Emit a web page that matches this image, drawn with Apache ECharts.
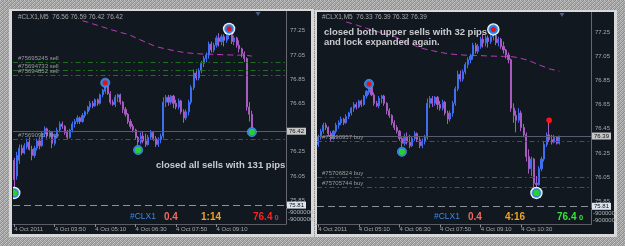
<!DOCTYPE html>
<html>
<head>
<meta charset="utf-8">
<script src="https://cdn.jsdelivr.net/npm/echarts@6/dist/echarts.min.js"></script>
<style>
html,body{margin:0;padding:0;background:#a9a9a9;}
#c{width:625px;height:246px;}
</style>
</head>
<body>
<div id="c"></div>
<script>
// ---- DATA (CLX1, M5, 4 Oct 2011) ----
// global bar index 0 = 02:30; each bar = [open, close, low, high]
const bars = [
[76.18,76.02,75.95,76.20],[76.05,76.22,76.02,76.25],[76.18,76.28,76.15,76.31],[76.28,76.24,76.22,76.31],
[76.24,76.30,76.23,76.32],[76.29,76.33,76.27,76.36],[76.33,76.27,76.26,76.37],[76.27,76.22,76.18,76.30],
[76.22,76.28,76.20,76.30],[76.28,76.34,76.26,76.36],[76.34,76.30,76.27,76.37],[76.30,76.40,76.29,76.42],
[76.40,76.44,76.37,76.46],[76.44,76.38,76.36,76.45],[76.38,76.41,76.36,76.43],[76.41,76.32,76.28,76.42],
[76.32,76.38,76.30,76.40],[76.38,76.43,76.36,76.45],[76.43,76.48,76.41,76.50],[76.48,76.46,76.44,76.50],
[76.46,76.41,76.39,76.47],[76.41,76.37,76.35,76.43],[76.37,76.43,76.36,76.44],[76.43,76.48,76.41,76.50],
[76.48,76.50,76.45,76.52],[76.50,76.53,76.48,76.55],[76.53,76.50,76.48,76.54],[76.50,76.55,76.49,76.57],
[76.55,76.58,76.53,76.59],[76.58,76.62,76.56,76.63],[76.62,76.65,76.59,76.67],[76.65,76.63,76.61,76.67],
[76.63,76.68,76.62,76.69],[76.68,76.65,76.63,76.69],[76.65,76.72,76.64,76.73],[76.72,76.76,76.70,76.77],
[76.75,76.79,76.73,76.81],[76.79,76.73,76.72,76.80],[76.73,76.66,76.64,76.75],[76.66,76.64,76.63,76.68],
[76.64,76.70,76.62,76.72],[76.70,76.72,76.66,76.73],[76.72,76.66,76.64,76.73],[76.66,76.60,76.57,76.67],
[76.60,76.56,76.54,76.62],[76.56,76.50,76.48,76.57],[76.50,76.46,76.44,76.52],[76.46,76.43,76.41,76.48],
[76.43,76.37,76.35,76.44],[76.37,76.33,76.30,76.38],[76.33,76.38,76.31,76.41],[76.38,76.34,76.32,76.42],
[76.34,76.31,76.29,76.40],[76.31,76.37,76.30,76.39],[76.37,76.41,76.35,76.43],[76.41,76.36,76.34,76.42],
[76.36,76.31,76.29,76.38],[76.31,76.35,76.29,76.37],[76.35,76.38,76.32,76.40],[76.38,76.66,76.36,76.70],
[76.66,76.70,76.62,76.72],[76.70,76.66,76.63,76.72],[76.66,76.71,76.64,76.72],[76.71,76.65,76.61,76.72],
[76.65,76.62,76.60,76.68],[76.62,76.67,76.60,76.69],[76.67,76.58,76.56,76.68],[76.58,76.53,76.49,76.60],
[76.53,76.58,76.51,76.60],[76.58,76.66,76.55,76.68],[76.66,76.78,76.64,76.80],[76.78,76.90,76.76,76.93],
[76.90,76.86,76.84,76.93],[76.86,76.92,76.84,76.94],[76.92,76.98,76.90,77.00],[76.98,77.02,76.95,77.04],
[77.02,77.05,76.99,77.07],[77.05,77.14,77.02,77.16],[77.14,77.09,77.07,77.16],[77.09,77.13,77.07,77.15],
[77.13,77.19,77.11,77.21],[77.19,77.16,77.12,77.23],[77.16,77.20,77.13,77.22],[77.20,77.17,77.12,77.22],
[77.17,77.21,77.15,77.23],[77.21,77.22,77.18,77.24],[77.22,77.16,77.14,77.23],[77.16,77.19,77.13,77.21],
[77.19,77.13,77.11,77.20],[77.13,77.10,77.07,77.17],[77.10,77.06,77.03,77.11],[77.06,77.02,76.99,77.08],
[77.02,76.62,76.59,77.03],[76.62,76.56,76.50,76.66],[76.56,76.52,76.42,76.60],[76.52,76.58,76.50,76.62],
[76.58,76.46,76.43,76.60],[76.46,76.40,76.38,76.49],[76.40,76.22,76.18,76.42],[76.22,76.12,76.08,76.28],
[76.12,76.20,76.06,76.22],[76.20,76.00,75.96,76.21],[76.00,75.99,75.95,76.06],[75.99,76.12,75.98,76.14],
[76.12,76.20,76.10,76.22],[76.20,76.32,76.18,76.35],[76.32,76.40,76.30,76.42],[76.40,76.36,76.34,76.52],
[76.36,76.34,76.32,76.40],[76.34,76.38,76.33,76.40],[76.38,76.33,76.32,76.39],[76.33,76.39,76.32,76.39]
];
// last (still forming) bar as seen in the left screenshot
const leftLiveBar = [76.56, 76.42, 76.42, 76.59];
const leftBarCount = 95;      // bars 0..94 in left shot
const rightFirstBar = 16;     // right shot starts 80 minutes later
// moving average (dashed magenta), starting at bar 27
const maFirstBar = 27;
const maValues = [
77.332,77.326,77.320,77.313,77.307,77.300,77.294,77.287,77.280,77.274,77.267,77.260,77.254,77.248,77.242,
77.236,77.230,77.225,77.219,77.211,77.202,77.192,77.182,77.173,77.164,77.155,77.146,77.137,77.128,77.120,
77.114,77.109,77.104,77.099,77.095,77.090,77.086,77.082,77.078,77.074,77.071,77.068,77.066,77.064,77.062,
77.061,77.059,77.058,77.057,77.056,77.056,77.055,77.055,77.054,77.053,77.052,77.051,77.050,77.050,77.049,
77.049,77.048,77.048,77.048,77.047,77.046,77.043,77.040,77.035,77.030,77.025,77.020,77.012,77.004,76.995,
76.987,76.978,76.970,76.962,76.953,76.945,76.940,76.935,76.930,76.925
];
// order lines
const leftOrders = [['#75695245 sell', 76.99], ['#75694733 sell', 76.917], ['#75694852 sell', 76.884], ['#75690957 buy', 76.351]];
const rightOrders = [['#75690957 buy', 76.351], ['#75706824 buy', 76.052], ['#75705744 buy', 75.969]];
const windowLowPrice = 75.81;
// swing markers: [global bar, price, kind]
const leftMarks = [[0, 75.91, 'lowRing'], [36, 76.82, 'high'], [49, 76.265, 'low'], [85, 77.265, 'highRing'], [94, 76.413, 'low']];
const rightMarks = [[36, 76.82, 'high'], [49, 76.26, 'low'], [85, 77.27, 'highRing'], [102, 75.92, 'lowRing'], [107, 76.52, 'dot']];
// tick labels
const priceTicksLeft = [75.85, 76.05, 76.25, 76.65, 76.85, 77.05, 77.25];
const priceTicksRight = [75.85, 76.05, 76.25, 76.45, 76.65, 76.85, 77.05, 77.25];
const timeLabelsLeft = ['4 Oct 2011', '4 Oct 03:50', '4 Oct 05:10', '4 Oct 06:30', '4 Oct 07:50', '4 Oct 09:10'];
const timeLabelsRight = ['4 Oct 2011', '4 Oct 05:10', '4 Oct 06:30', '4 Oct 07:50', '4 Oct 09:10', '4 Oct 10:30'];
const stripLeft = ['#CLX1', '0.4', '1:14', '76.4', '0'];
const stripRight = ['#CLX1', '0.4', '4:16', '76.4', '0'];
const noteLeft = ['closed all sells with 131 pips'];
const noteRight = ['closed both upper sells with 32 pips', 'and lock expanded again.'];

// ---- background texture ----
(function () {
  const pc = document.createElement('canvas'); pc.width = 4; pc.height = 4;
  const g = pc.getContext('2d');
  const sh = [[196,150,178,138],[160,188,132,182],[172,140,204,152],[146,192,158,170]];
  for (let y = 0; y < 4; y++) for (let x = 0; x < 4; x++) {
    const v = sh[y][x]; g.fillStyle = 'rgb(' + v + ',' + v + ',' + v + ')'; g.fillRect(x, y, 1, 1);
  }
  document.body.style.background = 'url(' + pc.toDataURL() + ')';
})();

const FONT = '"Liberation Sans", Arial, sans-serif';
const SLOTS = 108;
const cats = Array.from({length: SLOTS}, (_, k) => String(k));
const BULL = '#3d6ff0', BEAR = '#a95cc0';

const leftData = bars.slice(0, leftBarCount - 1).concat([leftLiveBar]);
const rightData = bars.slice(rightFirstBar);
function maFor(start, count) {
  const out = [];
  for (let k = 0; k < count; k++) {
    const gi = start + k - maFirstBar;
    out.push(gi >= 0 && gi < maValues.length ? maValues[gi] : null);
  }
  return out;
}

function orderLines(orders) {
  return orders.map(o => ({
    yAxis: o[1],
    lineStyle: {color: '#1f701f', width: 1, type: [5, 3, 1.5, 3]},
    label: {show: true, position: 'insideStartTop', formatter: o[0], distance: [5, 1],
            fontSize: 6, color: '#9a9a9a', fontFamily: FONT}
  }));
}
function boxLine(value, bg, lineStyle) {
  return {
    yAxis: value, lineStyle: lineStyle,
    label: {show: true, position: 'end', formatter: value.toFixed(2), distance: 1,
            backgroundColor: bg, color: '#111', padding: [1, 2, 0, 2], fontSize: 6, fontFamily: FONT}
  };
}

function markerRenderer(list, offset) {
  return function (params, api) {
    const m = list[params.dataIndex];
    const p = api.coord([m[0] - offset, m[1]]);
    const cx = p[0], cy = p[1];
    const kind = m[2];
    if (kind === 'dot') {
      return {type: 'circle', shape: {cx, cy, r: 2.8}, style: {fill: '#ff1414'}};
    }
    const isHigh = kind.indexOf('high') === 0;
    const ch = [];
    if (kind.indexOf('Ring') > 0) ch.push({type: 'circle', shape: {cx, cy, r: 6.2}, style: {fill: '#f4f4f4'}});
    ch.push({type: 'circle', shape: {cx, cy, r: 4.6}, style: {fill: '#2b7fe4', stroke: '#5aa2f0', lineWidth: 0.6}});
    ch.push({type: 'circle', shape: {cx, cy, r: isHigh ? 2.5 : 3.1}, style: {fill: isHigh ? '#e81212' : '#2bd02b'}});
    return {type: 'group', children: ch};
  };
}

const panels = [
  {grid: {left: 13, top: 11.3, width: 273, height: 195}, strip: {left: 13, top: 208, width: 273, height: 16},
   data: leftData, start: 0, count: leftBarCount, ticks: priceTicksLeft, times: timeLabelsLeft,
   bid: leftLiveBar[1], orders: leftOrders, marks: leftMarks},
  {grid: {left: 317, top: 12.5, width: 274, height: 195}, strip: {left: 317, top: 209, width: 274, height: 15.5},
   data: rightData, start: rightFirstBar, count: rightData.length, ticks: priceTicksRight, times: timeLabelsRight,
   bid: bars[bars.length - 1][1], orders: rightOrders, marks: rightMarks}
];

const grid = [], xAxis = [], yAxis = [], series = [];
panels.forEach((P, pi) => {
  const gm = pi * 2, gs = pi * 2 + 1;
  grid.push(Object.assign({containLabel: false}, P.grid));
  grid.push(Object.assign({containLabel: false}, P.strip));
  xAxis.push({type: 'category', gridIndex: gm, data: cats, boundaryGap: true,
              axisLine: {show: false}, axisTick: {show: false}, axisLabel: {show: false}, splitLine: {show: false}});
  const every16 = (i) => i % 16 === 0 && i / 16 < P.times.length;
  xAxis.push({type: 'category', gridIndex: gs, data: cats, boundaryGap: true,
              axisLine: {show: true, lineStyle: {color: '#5c5c66', width: 1}},
              axisTick: {show: true, alignWithLabel: true, interval: every16, length: 3, lineStyle: {color: '#8a8a92'}},
              axisLabel: {show: true, interval: every16, formatter: (v, i) => P.times[i / 16] || '',
                          align: 'left', fontSize: 6, color: '#a9a9a9', margin: 2, fontFamily: FONT},
              splitLine: {show: false}});
  yAxis.push({type: 'value', gridIndex: gm, position: 'right', min: 75.80, max: 77.41,
              axisLine: {show: true, lineStyle: {color: '#66666f'}}, axisTick: {show: false},
              splitLine: {show: false},
              axisLabel: {show: true, customValues: P.ticks, formatter: v => v.toFixed(2),
                          fontSize: 6, color: '#a9a9a9', margin: 4, fontFamily: FONT}});
  yAxis.push({type: 'value', gridIndex: gs, position: 'right', min: 0, max: 1,
              axisLine: {show: true, lineStyle: {color: '#66666f'}}, axisTick: {show: false},
              axisLabel: {show: false}, splitLine: {show: false}});
  const xi = pi * 2, yi = pi * 2;
  series.push({
    type: 'line', xAxisIndex: xi, yAxisIndex: yi, data: maFor(P.start, P.count), z: 1,
    showSymbol: false, symbol: 'none', silent: true,
    lineStyle: {color: '#c23cbd', width: 1, type: [6, 4]}
  });
  series.push({
    type: 'candlestick', xAxisIndex: xi, yAxisIndex: yi, data: P.data, barWidth: 1.6, silent: true,
    itemStyle: {color: BULL, color0: BEAR, borderColor: BULL, borderColor0: BEAR, borderWidth: 1},
    markLine: {
      silent: true, symbol: ['none', 'none'], animation: false,
      data: orderLines(P.orders).concat([
        boxLine(P.bid, '#c6c6c6', {color: '#5b5b70', width: 1, type: 'solid'}),
        boxLine(windowLowPrice, '#dce5ef', {color: '#8e8e9c', width: 1, type: [7, 4]})
      ])
    }
  });
  series.push({
    type: 'custom', xAxisIndex: xi, yAxisIndex: yi, clip: true, silent: true, z: 5,
    data: P.marks.map(m => [m[0] - P.start, m[1]]),
    encode: {x: 0, y: 1},
    renderItem: markerRenderer(P.marks, P.start)
  });
});

function txt(x, y, text, font, fill, extra) {
  return Object.assign({type: 'text', x: x, y: y, z: 10, silent: true,
    style: {text: text, font: font, fill: fill, align: 'left', verticalAlign: 'middle',
            textAlign: 'left', textVerticalAlign: 'middle'}}, extra || {});
}
const hdr = (b) => '#CLX1,M5  ' + b[0].toFixed(2) + ' ' + b[3].toFixed(2) + ' ' + b[2].toFixed(2) + ' ' + b[1].toFixed(2);
const small = '6.5px ' + FONT, note = 'bold 9.5px ' + FONT;
const graphic = [
  {type: 'rect', z: -20, silent: true, shape: {x: 9, y: 9, width: 305, height: 228}, style: {fill: '#d8d8d8'}},
  {type: 'rect', z: -20, silent: true, shape: {x: 315, y: 10, width: 302, height: 227}, style: {fill: '#d8d8d8'}},
  {type: 'rect', z: -19, silent: true, shape: {x: 12, y: 11, width: 299, height: 223}, style: {fill: '#111820'}},
  {type: 'rect', z: -19, silent: true, shape: {x: 317, y: 12, width: 297, height: 222}, style: {fill: '#111820'}},
  {type: 'polygon', z: 10, silent: true, shape: {points: [[255.5, 12], [260.5, 12], [258, 16]]}, style: {fill: '#4c5e88'}},
  {type: 'polygon', z: 10, silent: true, shape: {points: [[559.5, 13], [564.5, 13], [562, 17]]}, style: {fill: '#4c5e88'}},
  txt(18, 17, hdr(leftLiveBar), small, '#a8a8a8'),
  txt(322, 17, hdr(bars[bars.length - 1]), small, '#a8a8a8'),
  txt(156, 165.5, noteLeft[0], note, '#cacace'),
  txt(324, 32, noteRight[0], note, '#cacace'),
  txt(324, 42.5, noteRight[1], note, '#cacace'),
  txt(288, 212, '-9000000', '6px ' + FONT, '#b4b4b4'),
  txt(288, 219, '-9000000', '6px ' + FONT, '#b4b4b4'),
  txt(593, 213, '-9000000', '6px ' + FONT, '#b4b4b4'),
  txt(593, 220, '-9000000', '6px ' + FONT, '#b4b4b4')
];
[[stripLeft, [130, 164, 201, 253, 274.5], '#ff2020'], [stripRight, [434, 468, 505, 557, 579], '#33e633']].forEach(s => {
  const t = s[0], xs = s[1];
  graphic.push(txt(xs[0], 217, t[0], '8.5px ' + FONT, '#3f87d8'));
  graphic.push(txt(xs[1], 217, t[1], 'bold 10px ' + FONT, '#ee6a5e'));
  graphic.push(txt(xs[2], 217, t[2], 'bold 10px ' + FONT, '#f0a22a'));
  graphic.push(txt(xs[3], 217, t[3], 'bold 10px ' + FONT, s[2]));
  graphic.push(txt(xs[4], 218, t[4], 'bold 7.5px ' + FONT, s[2]));
});

const chart = echarts.init(document.getElementById('c'), null, {renderer: 'canvas', width: 625, height: 246});
chart.setOption({
  backgroundColor: 'transparent',
  animation: false,
  grid: grid, xAxis: xAxis, yAxis: yAxis, series: series, graphic: graphic
});
</script>
</body>
</html>
